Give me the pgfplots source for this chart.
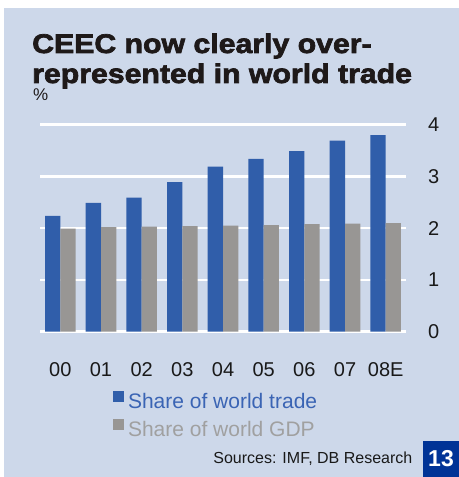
\documentclass[border=0pt]{standalone}
\usepackage{pgfplots}
\pgfplotsset{compat=1.18}
\usepackage{fontspec}
\setmainfont{Liberation Sans}
\newfontfamily\titlefont{Liberation Sans}[FakeStretch=1.12, BoldFeatures={FakeBold=2.6}]
\definecolor{bg}{RGB}{205,216,234}
\definecolor{tradeblue}{RGB}{48,94,170}
\definecolor{gdpgray}{RGB}{152,150,148}
\definecolor{legblue}{RGB}{58,100,180}
\definecolor{leggray}{RGB}{160,160,160}
\definecolor{boxblue}{RGB}{0,51,150}
\definecolor{titleblack}{RGB}{30,25,25}
\begin{document}
\begin{tikzpicture}[x=1bp,y=1bp]
\path (0,0) rectangle (459,477);
\fill[bg] (4,0) rectangle (459,469);
\node[anchor=base west, inner sep=0pt, text=titleblack] at (32,477-53) {\titlefont\bfseries\fontsize{27bp}{30bp}\selectfont CEEC now clearly over-};
\node[anchor=base west, inner sep=0pt, text=titleblack] at (32,477-83) {\titlefont\bfseries\fontsize{27bp}{30bp}\selectfont represented in world trade};
\node[anchor=base west, inner sep=0pt, text=titleblack] at (33,477-101) {\fontsize{17bp}{20bp}\selectfont \%};
\begin{axis}[
  at={(40bp,145.3bp)}, anchor=south west,
  scale only axis, width=366bp, height=207bp,
  xmin=-0.5, xmax=8.5, ymin=0, ymax=4,
  ybar, bar width=15.3bp,
  axis line style={draw=none},
  major tick length=0pt,
  xtick={0,...,8},
  xticklabels={00,01,02,03,04,05,06,07,08E},
  ytick={0,1,2,3,4},
  yticklabels={0,1,2,3,4},
  yticklabel pos=right,
  ymajorgrids,
  major grid style={white, line width=2.5bp},
  extra y ticks={0},
  extra y tick labels={},
  extra y tick style={grid style={white, line width=4bp}},
  tick label style={font=\fontsize{20bp}{24bp}\selectfont, text=black!90, inner sep=0pt},
  xticklabel style={anchor=north},
  yticklabel style={anchor=west},
  xticklabel shift=31bp,
  yticklabel shift=22bp,
  legend style={at={(0.199,-0.284)}, anchor=north west, draw=none, fill=none,
    font=\fontsize{21bp}{25bp}\selectfont, inner sep=0pt, row sep=8.5bp, column sep=4bp,
    nodes={inner sep=0pt}},
  legend cell align=left,
  legend image code/.code={\fill[#1,draw=none] (0bp,0bp) rectangle (11bp,11bp);},
]
\addplot[fill=tradeblue, draw=none, bar shift=-7.65bp] coordinates {
(0,2.24) (1,2.49) (2,2.59) (3,2.89) (4,3.19) (5,3.34) (6,3.49) (7,3.69) (8,3.80)};
\addlegendentry{\textcolor{legblue}{Share of world trade}}
\addplot[fill=gdpgray, draw=none, bar shift=7.65bp] coordinates {
(0,1.99) (1,2.02) (2,2.03) (3,2.04) (4,2.05) (5,2.06) (6,2.08) (7,2.09) (8,2.10)};
\addlegendentry{\textcolor{leggray}{Share of world GDP}}
\end{axis}
\node[anchor=base east, inner sep=0pt, text=black!90] at (412.5,477-463.5) {\fontsize{16bp}{19bp}\selectfont Sources: IMF, DB Research};
\fill[boxblue] (423,0) rectangle (459,36);
\node[text=white, inner sep=0pt] at (441,18) {\fontsize{23bp}{26bp}\selectfont\bfseries 13};
\end{tikzpicture}
\end{document}
